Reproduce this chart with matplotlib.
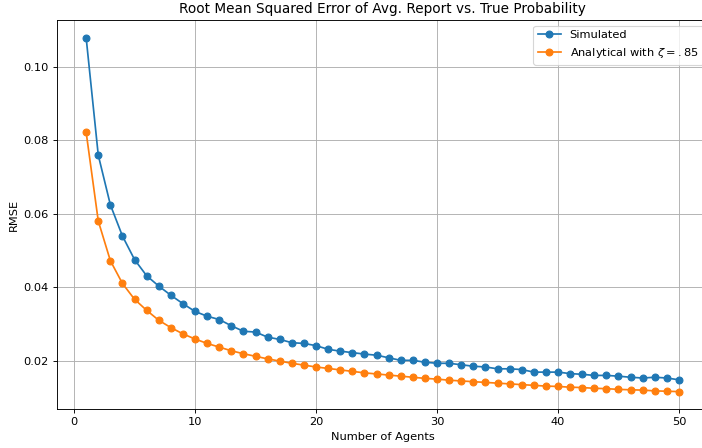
import matplotlib.pyplot as plt

num_agents = list(range(1, 51))

rmse_simulated = [
    0.1078, 0.0759, 0.0624, 0.0539, 0.0475, 0.0431, 0.0403, 0.0378, 0.0355, 0.0334,
    0.0321, 0.0312, 0.0295, 0.0280, 0.0278, 0.0264, 0.0258, 0.0249, 0.0247, 0.0241,
    0.0231, 0.0226, 0.0222, 0.0218, 0.0215, 0.0208, 0.0201, 0.0201, 0.0196, 0.0193,
    0.0193, 0.0189, 0.0185, 0.0183, 0.0178, 0.0178, 0.0176, 0.0169, 0.0169, 0.0169,
    0.0165, 0.0163, 0.0160, 0.0160, 0.0158, 0.0155, 0.0153, 0.0155, 0.0153, 0.0148,
]

rmse_analytical = [
    0.0821, 0.0580, 0.0472, 0.0410, 0.0367, 0.0337, 0.0310, 0.0290, 0.0273, 0.0259,
    0.0247, 0.0237, 0.0227, 0.0219, 0.0212, 0.0205, 0.0199, 0.0193, 0.0188, 0.0183,
    0.0179, 0.0175, 0.0171, 0.0167, 0.0164, 0.0161, 0.0158, 0.0155, 0.0152, 0.0150,
    0.0147, 0.0145, 0.0143, 0.0141, 0.0139, 0.0137, 0.0135, 0.0133, 0.0131, 0.0130,
    0.0128, 0.0127, 0.0125, 0.0124, 0.0122, 0.0121, 0.0120, 0.0118, 0.0117, 0.0116,
]

DPI = 82
fig = plt.figure(figsize=(703 / DPI, 448 / DPI), dpi=DPI)
ax = fig.add_axes([0.0804, 0.0864, 0.9276, 0.8686])

ax.plot(num_agents, rmse_simulated, marker='o', label='Simulated')
ax.plot(num_agents, rmse_analytical, marker='o', label=r'Analytical with $\zeta=.85$')

ax.set_title('Root Mean Squared Error of Avg. Report vs. True Probability')
ax.set_xlabel('Number of Agents')
ax.set_ylabel('RMSE')
ax.grid(True)
ax.legend(loc='upper right')

fig.savefig('out.png', dpi=DPI)
